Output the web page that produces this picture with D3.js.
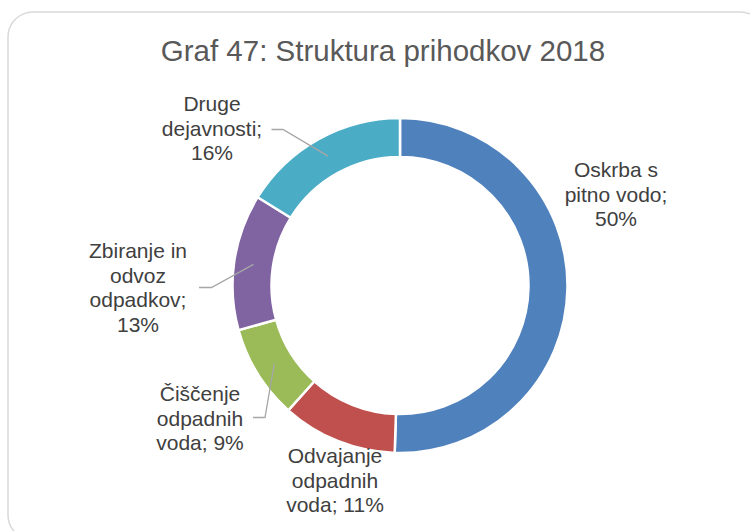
<!DOCTYPE html>
<html>
<head>
<meta charset="utf-8">
<script src="https://cdn.jsdelivr.net/npm/d3@7"></script>
<style>
  html, body { margin: 0; padding: 0; background: #fff; }
  svg { display: block; }
</style>
</head>
<body>
<svg id="chart" width="750" height="531"></svg>
<script>
// Revenue structure 2018, shares in percent
const categories = [
  "Oskrba s pitno vodo",
  "Odvajanje odpadnih voda",
  "Čiščenje odpadnih voda",
  "Zbiranje in odvoz odpadkov",
  "Druge dejavnosti"
];
const values = [50, 11, 9, 13, 16];
const colors = ["#4f81bd", "#c0504d", "#9bbb59", "#8064a2", "#4bacc6"];
// Label text, one entry per line
const labelLines = [
  ["Oskrba s", "pitno vodo;", "50%"],
  ["Odvajanje", "odpadnih", "voda; 11%"],
  ["Čiščenje", "odpadnih", "voda; 9%"],
  ["Zbiranje in", "odvoz", "odpadkov;", "13%"],
  ["Druge", "dejavnosti;", "16%"]
];

const W = 750, H = 531;
const cx = 400, cy = 285.5;
const outerR = 167.5, innerR = 128.5;

const svg = d3.select("#chart");

// Card frame with rounded corners
svg.append("rect")
  .attr("x", 8).attr("y", 12)
  .attr("width", 757).attr("height", 528)
  .attr("rx", 25).attr("ry", 25)
  .attr("fill", "#fff")
  .attr("stroke", "#d9d9d9")
  .attr("stroke-width", 1.5);

// Title
svg.append("text")
  .attr("x", 383).attr("y", 61)
  .attr("text-anchor", "middle")
  .attr("font-family", "'Liberation Sans', Arial, sans-serif")
  .attr("font-size", 29.5)
  .attr("fill", "#595959")
  .text("Graf 47: Struktura prihodkov 2018");

const data = categories.map((c, i) => ({ name: c, value: values[i], color: colors[i], lines: labelLines[i] }));

const pie = d3.pie().sort(null).value(d => d.value);
const arcs = pie(data);

const arc = d3.arc().innerRadius(innerR).outerRadius(outerR);
const midArc = d3.arc().innerRadius((innerR + outerR) / 2).outerRadius((innerR + outerR) / 2);

const g = svg.append("g").attr("transform", `translate(${cx},${cy})`);

g.selectAll("path.slice")
  .data(arcs)
  .join("path")
  .attr("class", "slice")
  .attr("d", arc)
  .attr("fill", d => d.data.color)
  .attr("stroke", "#fff")
  .attr("stroke-width", 2.5);

// Label placement: text centre x, first baseline (absolute), and leader elbow if any
const labelLayout = [
  { x: 616, y: 177, leader: null },
  { x: 335, y: 463, leader: null },
  { x: 200, y: 401, leader: { x0: 253, y0: 417.5, x1: 265 } },
  { x: 138, y: 258, leader: { x0: 199, y0: 287.5, x1: 211.5 } },
  { x: 212, y: 111, leader: { x0: 271.5, y0: 129.5, x1: 283 } }
];
const lineH = 24.7;

arcs.forEach((a, i) => {
  const L = labelLayout[i];
  if (L.leader) {
    const c = midArc.centroid(a);
    const px = cx + c[0], py = cy + c[1];
    svg.append("polyline")
      .attr("points", `${L.leader.x0},${L.leader.y0} ${L.leader.x1},${L.leader.y0} ${px},${py}`)
      .attr("fill", "none")
      .attr("stroke", "#a6a6a6")
      .attr("stroke-width", 1.3);
  }
  const t = svg.append("text")
    .attr("text-anchor", "middle")
    .attr("font-family", "'Liberation Sans', Arial, sans-serif")
    .attr("font-size", 21)
    .attr("fill", "#404040");
  a.data.lines.forEach((ln, k) => {
    t.append("tspan")
      .attr("x", L.x)
      .attr("y", L.y + k * lineH)
      .text(ln);
  });
});
</script>
</body>
</html>
